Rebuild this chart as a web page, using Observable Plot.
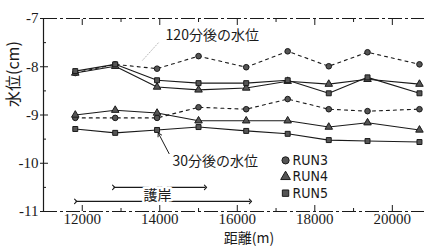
<!DOCTYPE html>
<html><head><meta charset="utf-8">
<script src="https://cdn.jsdelivr.net/npm/d3@7"></script>
<script src="https://cdn.jsdelivr.net/npm/@observablehq/plot@0.6"></script>
<style>
body{margin:0;background:#fff}
g[aria-label="x-axis tick label"] text, g[aria-label="y-axis tick label"] text,
g[aria-label="x-axis tick label"], g[aria-label="y-axis tick label"] {
  font-family: "Liberation Serif", "Times New Roman", "DejaVu Serif", serif !important;
}
</style>
</head><body><div id="chart"></div>
<script>
// distance (m) of each measurement point
const distances = [11820, 12850, 13930, 15000, 16230, 17300, 18360, 19360, 20700];
// water level (cm) 120 minutes after
const run3_120 = [-8.13, -7.95, -8.04, -7.78, -8.01, -7.68, -7.99, -7.70, -7.95];
const run4_120 = [-8.13, -7.99, -8.42, -8.48, -8.44, -8.30, -8.36, -8.26, -8.36];
const run5_120 = [-8.09, -7.95, -8.28, -8.34, -8.34, -8.28, -8.55, -8.22, -8.55];
// water level (cm) 30 minutes after
const run3_30 = [-9.06, -9.06, -9.06, -8.84, -8.88, -8.67, -8.88, -8.92, -8.88];
const run4_30 = [-9.00, -8.90, -8.96, -9.12, -9.12, -9.12, -9.25, -9.16, -9.31];
const run5_30 = [-9.29, -9.37, -9.31, -9.25, -9.33, -9.39, -9.52, -9.54, -9.56];

const runs = ["RUN3", "RUN4", "RUN5"];
const xTicks = [12000, 14000, 16000, 18000, 20000];
const xMinorTicks = [13000, 15000, 17000, 19000];
const yTicks = [-7, -8, -9, -10, -11];
const yMinorTicks = [-7.5, -8.5, -9.5, -10.5];
const xDomain = [11000, 20830];
const yDomain = [-11, -7];

// annotations (data coordinates)
const labels120 = [{x: 14150, y: -7.36, text: "120分後の水位"}];
const leader120 = [{x1: 13968, y1: -7.50, x2: 13540, y2: -7.88}];
const labels30 = [{x: 14330, y: -9.96, text: "30分後の水位"}];
const leader30 = [{x1: 14240, y1: -9.80, x2: 13960, y2: -9.37}];
const bankArrows = [
  {x1: 12810, x2: 15180, y: -10.50},
  {x1: 11830, x2: 16340, y: -10.79}
];
const bankLabel = [{x: 13940, y: -10.66, text: "護岸"}];
const legendItems = [
  {run: "RUN3", x: 17245, y: -9.94},
  {run: "RUN4", x: 17245, y: -10.28},
  {run: "RUN5", x: 17245, y: -10.62}
];

const series = [
  {run: "RUN3", time: "120", values: run3_120},
  {run: "RUN4", time: "120", values: run4_120},
  {run: "RUN5", time: "120", values: run5_120},
  {run: "RUN3", time: "30", values: run3_30},
  {run: "RUN4", time: "30", values: run4_30},
  {run: "RUN5", time: "30", values: run5_30}
];
const rows = [];
series.forEach(s => s.values.forEach((v, i) => rows.push({x: distances[i], y: v, run: s.run, key: s.run + s.time})));

const serif = "Liberation Serif, Times New Roman, DejaVu Serif, serif";
const cjk = "Noto Sans CJK JP, sans-serif";
const narrow = "DejaVu Sans Condensed, DejaVu Sans, sans-serif";
const ink = "#1a1a1a";

const chart = Plot.plot({
  width: 424, height: 248,
  marginLeft: 43, marginRight: 0, marginTop: 18, marginBottom: 37,
  style: {background: "#fff", color: ink},
  x: {domain: xDomain, label: null},
  y: {domain: yDomain, label: null},
  symbol: {domain: runs, range: ["circle", "triangle", "square"]},
  marks: [
    // frame
    Plot.ruleX([xDomain[0]], {stroke: ink, strokeWidth: 1.2}),
    Plot.ruleY(yDomain, {stroke: ink, strokeWidth: 1.2, strokeDasharray: "14,3,3,3"}),
    // x axis ticks (inward) bottom + top
    Plot.axisX(xTicks, {anchor: "bottom", tickSize: -6, text: null, stroke: ink}),
    Plot.axisX(xMinorTicks, {anchor: "bottom", tickSize: -3, text: null, stroke: ink}),
    Plot.axisX(xTicks, {anchor: "top", tickSize: -6, text: null, stroke: ink}),
    Plot.axisX(xMinorTicks, {anchor: "top", tickSize: -3, text: null, stroke: ink}),
    Plot.axisX(xTicks, {anchor: "bottom", tickSize: 0, tickPadding: 2, tickFormat: d => String(d), fontSize: 15, fontFamily: serif, label: null}),
    // y axis
    Plot.axisY(yTicks, {anchor: "left", tickSize: 3, tickPadding: 2, tickFormat: d => String(d), fontSize: 15, fontFamily: serif, label: null, stroke: ink}),
    Plot.axisY(yTicks, {anchor: "left", tickSize: -5, text: null, stroke: ink}),
    Plot.axisY(yMinorTicks, {anchor: "left", tickSize: -3, text: null, stroke: ink}),
    // lines
    Plot.line(rows.filter(d => d.run === "RUN3"), {x: "x", y: "y", z: "key", stroke: ink, strokeWidth: 1.1, strokeDasharray: "3,4"}),
    Plot.line(rows.filter(d => d.run !== "RUN3"), {x: "x", y: "y", z: "key", stroke: ink, strokeWidth: 1.1}),
    // markers
    Plot.dot(rows, {x: "x", y: "y", symbol: "run", r: 2.8, fill: "#555", stroke: ink, strokeWidth: 1}),
    // annotations
    Plot.link(leader120, {x1: "x1", y1: "y1", x2: "x2", y2: "y2", stroke: "#aaa", strokeWidth: 0.8, strokeDasharray: "2,1"}),
    Plot.arrow(leader120, {x1: "x1", y1: "y1", x2: "x2", y2: "y2", stroke: ink, strokeWidth: 0, headLength: 7}),
    Plot.text(labels120, {x: "x", y: "y", text: "text", textAnchor: "start", fontSize: 14, fontFamily: cjk, fill: ink}),
    Plot.arrow(leader30, {x1: "x1", y1: "y1", x2: "x2", y2: "y2", stroke: ink, strokeWidth: 1, headLength: 6}),
    Plot.text(labels30, {x: "x", y: "y", text: "text", textAnchor: "start", fontSize: 14, fontFamily: cjk, fill: ink}),
    Plot.link(bankArrows, {x1: "x1", x2: "x2", y1: "y", y2: "y", stroke: ink, strokeWidth: 1.1, markerStart: "arrow", markerEnd: "arrow"}),
    Plot.text(bankLabel, {x: "x", y: "y", text: "text", fontSize: 14, fontFamily: cjk, fill: ink, stroke: "white", strokeWidth: 5}),
    // legend
    Plot.dot(legendItems, {x: "x", y: "y", symbol: "run", r: 3.6, fill: "#555", stroke: ink, strokeWidth: 1}),
    Plot.text(legendItems, {x: "x", y: "y", text: "run", textAnchor: "start", dx: 7, fontSize: 14, fontFamily: narrow, fill: ink}),
    // axis titles
    Plot.text(["水位(cm)"], {frameAnchor: "left", rotate: -90, dx: -30, dy: -8, fontSize: 16, fontFamily: cjk, fill: ink}),
    Plot.text(["距離(m)"], {frameAnchor: "bottom", dx: 15, dy: 31, fontSize: 14, fontFamily: cjk, fill: ink})
  ]
});
document.getElementById("chart").append(chart);
</script>
</body></html>
